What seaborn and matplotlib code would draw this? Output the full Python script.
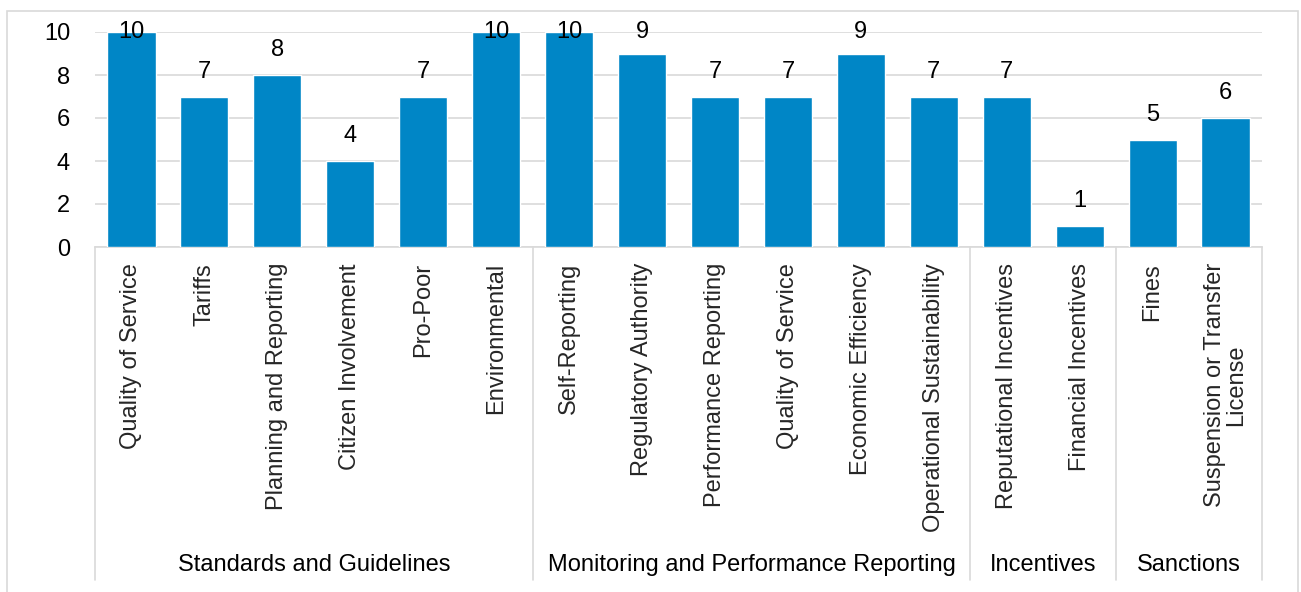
import matplotlib
matplotlib.use("Agg")
import matplotlib.pyplot as plt
import matplotlib.transforms as mtransforms
from matplotlib.lines import Line2D
from matplotlib.patches import Rectangle
import seaborn as sns
import pandas as pd

# Mechanism groups and their sub-categories
groups = ["Standards and Guidelines", "Monitoring and Performance Reporting",
          "Incentives", "Sanctions"]
group_sizes = [6, 6, 2, 2]
categories = [
    "Quality of Service", "Tariffs", "Planning and Reporting",
    "Citizen Involvement", "Pro-Poor", "Environmental",
    "Self-Reporting", "Regulatory Authority", "Performance Reporting",
    "Quality of Service", "Economic Efficiency", "Operational Sustainability",
    "Reputational Incentives", "Financial Incentives",
    "Fines", "Suspension or Transfer\nLicense",
]
counts = [10, 7, 8, 4, 7, 10, 10, 9, 7, 7, 9, 7, 7, 1, 5, 6]
y_ticks = [0, 2, 4, 6, 8, 10]

BAR = "#0086C6"
GRID = "#D9D9D9"
FS = 17

sns.set_theme(style="white")
plt.rcParams["font.family"] = ["Liberation Sans", "DejaVu Sans"]

group_of = []
for g, n in zip(groups, group_sizes):
    group_of += [g] * n
df = pd.DataFrame({
    "key": [f"{g} | {c}" for g, c in zip(group_of, categories)],
    "count": counts,
})

W, H = 1301, 592
fig = plt.figure(figsize=(W / 100, H / 100), dpi=100)
ax = fig.add_axes([95 / W, (H - 247) / H, (1262 - 95) / W, (247 - 32) / H])

sns.barplot(data=df, x="key", y="count", order=list(df["key"]),
            color=BAR, saturation=1, width=0.66, ax=ax, zorder=3)

ax.set_xlim(-0.5, len(counts) - 0.5)
ax.set_ylim(0, 10)
ax.set_yticks(y_ticks)
ax.set_yticklabels([str(t) for t in y_ticks], fontsize=FS, color="black")
ax.tick_params(axis="y", length=0, pad=18)
ax.set_xticks([])
ax.set_xlabel("")
ax.set_ylabel("")
ax.yaxis.grid(True, color=GRID, linewidth=1.2, zorder=0)
ax.set_axisbelow(True)
for s in ["top", "right", "left"]:
    ax.spines[s].set_visible(False)
ax.spines["bottom"].set_color(GRID)
ax.spines["bottom"].set_linewidth(1.2)

# Value labels above bars, kept inside the plot area
for i, v in enumerate(counts):
    ax.text(i, min(v + 1.16, 10.0), str(v), ha="center", va="center",
            fontsize=FS, color="black", zorder=5)

# Rotated category labels
for i, c in enumerate(categories):
    ax.annotate(c, xy=(i, 0), xycoords=("data", "axes fraction"),
                xytext=(0, -16), textcoords="offset pixels",
                rotation=90, ha="center", va="top", fontsize=FS,
                multialignment="center", linespacing=1.0,
                annotation_clip=False)

# Group labels and separators
trans = mtransforms.blended_transform_factory(ax.transData, fig.transFigure)
bounds = [-0.5]
for n in group_sizes:
    bounds.append(bounds[-1] + n)
for b in bounds:
    fig.add_artist(Line2D([b, b], [(H - 247) / H, (H - 580) / H],
                          transform=trans, color=GRID, linewidth=1.2))
for g, lo, hi in zip(groups, bounds[:-1], bounds[1:]):
    fig.text((lo + hi) / 2, (H - 565) / H, g, transform=trans,
             ha="center", va="center", fontsize=FS, color="black")

# Outer chart frame
fig.add_artist(Rectangle((7 / W, -0.2), (1298 - 7) / W, 0.2 + (H - 11) / H,
                         transform=fig.transFigure, fill=False,
                         edgecolor=GRID, linewidth=1.2))

fig.savefig("out.png", dpi=100)
